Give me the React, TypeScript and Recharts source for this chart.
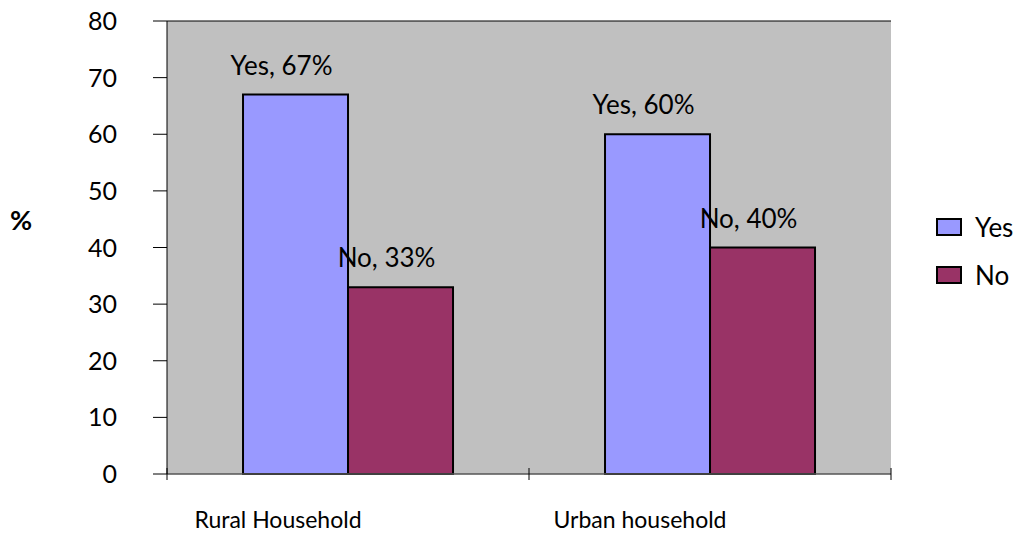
import { BarChart, Bar, XAxis, YAxis, CartesianGrid, LabelList } from 'recharts'

const categories = ['Rural Household', 'Urban household']
const yesValues = [67, 60]
const noValues = [33, 40]
const yTicks = [0, 10, 20, 30, 40, 50, 60, 70, 80]

const YES_COLOR = '#9999ff'
const NO_COLOR = '#993366'
const FONT = 'Lato, "Open Sans", sans-serif'

const W = 1016
const H = 534
const MARGIN = { top: 21, right: 125, bottom: 10, left: 107 }
const Y_AXIS_W = 60
const X_AXIS_H = 50
const HALF_BAND = (W - MARGIN.left - Y_AXIS_W - MARGIN.right) / categories.length / 2

const data = categories.map((name, i) => ({ name, Yes: yesValues[i], No: noValues[i] }))

// category ticks sit between groups, labels are pulled left of the group center
function CategoryTick(props: any) {
  const { x, y, payload, index } = props
  return (
    <g>
      <line x1={x - HALF_BAND} y1={y - 14} x2={x - HALF_BAND} y2={y - 2} stroke="#000" />
      {index === categories.length - 1 && (
        <line x1={x + HALF_BAND} y1={y - 14} x2={x + HALF_BAND} y2={y - 2} stroke="#000" />
      )}
      <text x={x - 70} y={y + 46} textAnchor="middle" fontSize={23} fontFamily={FONT} fill="#000">
        {payload.value}
      </text>
    </g>
  )
}

function ValueTick(props: any) {
  const { x, y, payload } = props
  return (
    <text x={x - 12} y={y + 9} textAnchor="end" fontSize={25} fontFamily={FONT} fill="#000">
      {payload.value}
    </text>
  )
}

function makeLabel(series: string) {
  return (props: any) => {
    const { x, y, width, value } = props
    return (
      <text x={x + width / 2 - 14} y={y - 20} textAnchor="middle" fontSize={26} fontFamily={FONT} fill="#000">
        {`${series}, ${value}%`}
      </text>
    )
  }
}

const legendRows = [
  { name: 'Yes', color: YES_COLOR },
  { name: 'No', color: NO_COLOR },
]

export default function App() {
  return (
    <div style={{ position: 'absolute', left: 0, top: 0, width: W, height: H, background: '#fff' }}>
      <BarChart width={W} height={H} data={data} margin={MARGIN} barCategoryGap="21%" barGap={0}>
        <CartesianGrid fill="#c0c0c0" stroke="#000" vertical={false} />
        <XAxis
          dataKey="name"
          height={X_AXIS_H}
          stroke="#808080"
          tickLine={false}
          tick={<CategoryTick />}
          interval={0}
        />
        <YAxis
          yAxisId="left"
          width={Y_AXIS_W}
          domain={[0, 80]}
          ticks={yTicks}
          stroke="#000"
          tickSize={14}
          tickMargin={24}
          tick={<ValueTick />}
        />
        <YAxis
          yAxisId="right"
          orientation="right"
          width={0}
          domain={[0, 80]}
          stroke="#808080"
          strokeWidth={2}
          tick={false}
          tickLine={false}
        />
        <Bar yAxisId="left" dataKey="Yes" fill={YES_COLOR} stroke="#000" strokeWidth={2} isAnimationActive={false}>
          <LabelList dataKey="Yes" content={makeLabel('Yes')} />
        </Bar>
        <Bar yAxisId="left" dataKey="No" fill={NO_COLOR} stroke="#000" strokeWidth={2} isAnimationActive={false}>
          <LabelList dataKey="No" content={makeLabel('No')} />
        </Bar>
      </BarChart>
      <div
        style={{
          position: 'absolute',
          left: 10,
          top: 203,
          fontFamily: FONT,
          fontSize: 27,
          fontWeight: 'bold',
        }}
      >
        %
      </div>
      <div style={{ position: 'absolute', left: 936, top: 203, fontFamily: FONT, fontSize: 26 }}>
        {legendRows.map((r) => (
          <div key={r.name} style={{ display: 'flex', alignItems: 'center', height: 48 }}>
            <span
              style={{
                display: 'inline-block',
                width: 22,
                height: 14,
                background: r.color,
                border: '2px solid #000',
                marginRight: 13,
              }}
            />
            <span>{r.name}</span>
          </div>
        ))}
      </div>
    </div>
  )
}
